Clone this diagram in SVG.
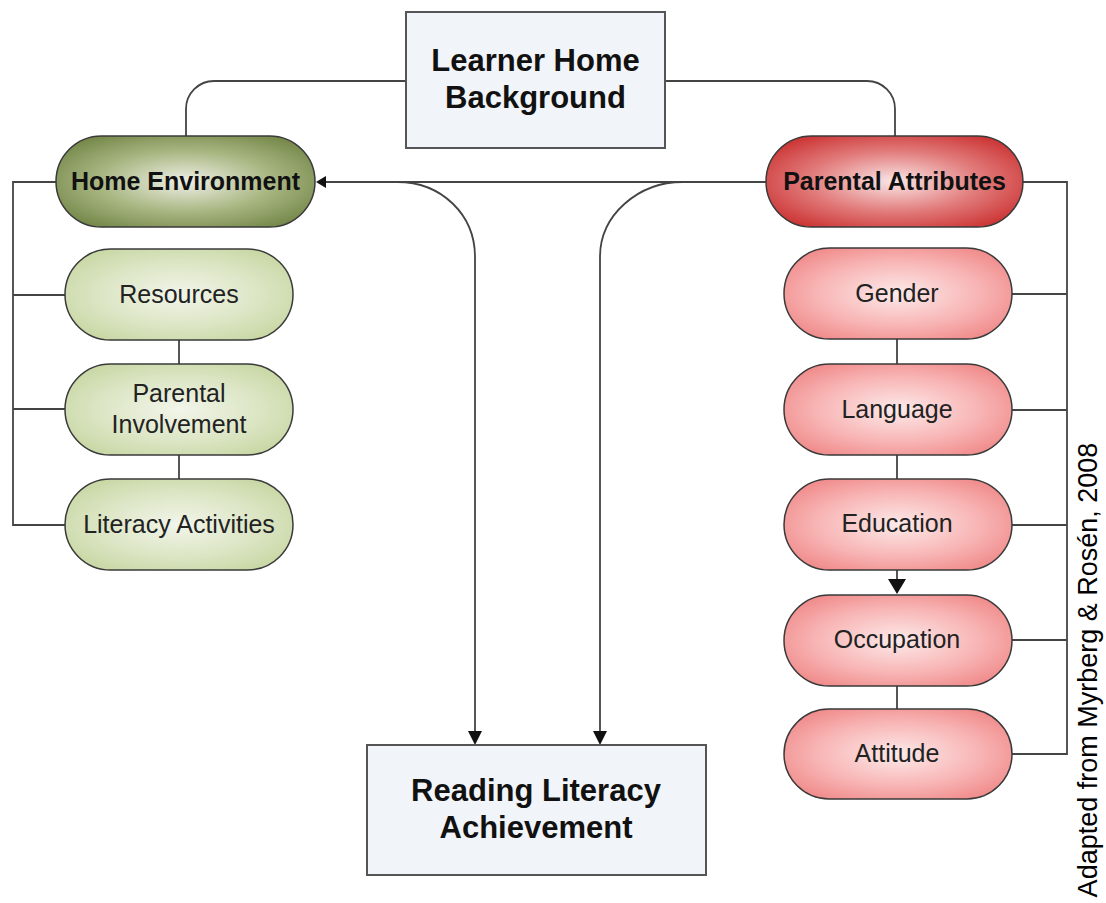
<svg xmlns="http://www.w3.org/2000/svg" width="1106" height="903" viewBox="0 0 1106 903">
<style>
.box{fill:#f1f4f8;stroke:#555;stroke-width:2}
.pill{stroke:#3a3a3a;stroke-width:1.5}
.he{fill:url(#gOlive)}
.gc{fill:url(#gLightGreen)}
.pa{fill:url(#gRed)}
.rc{fill:url(#gPink)}
.conn{fill:none;stroke:#444;stroke-width:1.8}
.big{font-family:"Liberation Sans",Arial,sans-serif;font-weight:bold;font-size:31px;fill:#111;text-anchor:middle}
.mid{font-family:"Liberation Sans",Arial,sans-serif;font-weight:bold;font-size:25px;fill:#111;text-anchor:middle}
.small{font-family:"Liberation Sans",Arial,sans-serif;font-size:25px;fill:#222;text-anchor:middle}
.note{font-family:"Liberation Sans",Arial,sans-serif;font-size:27px;fill:#000;text-anchor:middle}
.ah{fill:#111}
</style>
<defs>
<radialGradient id="gOlive" cx="0.5" cy="0.5" r="0.6">
<stop offset="0" stop-color="#eef0e6"/>
<stop offset="0.55" stop-color="#a9b783"/>
<stop offset="1" stop-color="#76884a"/>
</radialGradient>
<radialGradient id="gLightGreen" cx="0.5" cy="0.5" r="0.6">
<stop offset="0" stop-color="#f2f5ea"/>
<stop offset="0.6" stop-color="#dbe5c3"/>
<stop offset="1" stop-color="#c8d7a4"/>
</radialGradient>
<radialGradient id="gRed" cx="0.5" cy="0.5" r="0.6">
<stop offset="0" stop-color="#fae6e6"/>
<stop offset="0.55" stop-color="#e27c7c"/>
<stop offset="1" stop-color="#cc3535"/>
</radialGradient>
<radialGradient id="gPink" cx="0.5" cy="0.5" r="0.6">
<stop offset="0" stop-color="#fdeaea"/>
<stop offset="0.6" stop-color="#f8b4b4"/>
<stop offset="1" stop-color="#f08a8a"/>
</radialGradient>
</defs>

<g id="connectors">
<path class="conn" d="M406,81 H214 A28,28 0 0 0 186,109 V136"/>
<path class="conn" d="M665,81 H867 A28,28 0 0 1 895,109 V136"/>
<path class="conn" d="M766,182 H325"/>
<polygon class="ah" points="316,182 326,176 326,188"/>
<path class="conn" d="M397,182 C442,182 475,215 475,257 V732"/>
<polygon class="ah" points="475,745 468,731 482,731"/>
<path class="conn" d="M683,182 C638,182 600,215 600,257 V732"/>
<polygon class="ah" points="600,745 593,731 607,731"/>
<path class="conn" d="M56,182 H13 V525 H65 M13,295 H65 M13,409 H65"/>
<path class="conn" d="M179,340 V364 M179,455 V479"/>
<path class="conn" d="M1023,182 H1067 V754 H1011 M1011,294 H1067 M1011,410 H1067 M1011,525 H1067 M1011,640 H1067"/>
<path class="conn" d="M897,339 V364 M897,455 V479 M897,570 V581 M897,686 V709"/>
<polygon class="ah" points="897,594 888,579 906,579"/>
</g>

<g id="learner-home-background">
<rect class="box" x="406" y="12" width="259" height="136"/>
<text class="big" x="535.5" y="71">Learner Home</text>
<text class="big" x="535.5" y="108">Background</text>
</g>

<g id="home-environment">
<rect class="pill he" x="56" y="136" width="259" height="91" rx="45.5"/>
<text class="mid" x="185.5" y="190">Home Environment</text>
</g>

<g id="parental-attributes">
<rect class="pill pa" x="766" y="136" width="257" height="91" rx="45.5"/>
<text class="mid" x="894.5" y="190">Parental Attributes</text>
</g>

<g id="resources">
<rect class="pill gc" x="65" y="249" width="228" height="91" rx="45.5"/>
<text class="small" x="179" y="303">Resources</text>
</g>
<g id="parental-involvement">
<rect class="pill gc" x="65" y="364" width="228" height="91" rx="45.5"/>
<text class="small" x="179" y="402">Parental</text>
<text class="small" x="179" y="433">Involvement</text>
</g>
<g id="literacy-activities">
<rect class="pill gc" x="65" y="479" width="228" height="91" rx="45.5"/>
<text class="small" x="179" y="533">Literacy Activities</text>
</g>

<g id="gender">
<rect class="pill rc" x="784" y="248" width="228" height="91" rx="45.5"/>
<text class="small" x="897" y="302">Gender</text>
</g>
<g id="language">
<rect class="pill rc" x="784" y="364" width="228" height="91" rx="45.5"/>
<text class="small" x="897" y="418">Language</text>
</g>
<g id="education">
<rect class="pill rc" x="784" y="479" width="228" height="91" rx="45.5"/>
<text class="small" x="897" y="532">Education</text>
</g>
<g id="occupation">
<rect class="pill rc" x="784" y="595" width="228" height="91" rx="45.5"/>
<text class="small" x="897" y="648">Occupation</text>
</g>
<g id="attitude">
<rect class="pill rc" x="784" y="709" width="228" height="90" rx="45"/>
<text class="small" x="897" y="762">Attitude</text>
</g>

<g id="reading-literacy-achievement">
<rect class="box" x="367" y="745" width="339" height="130"/>
<text class="big" x="536" y="801">Reading Literacy</text>
<text class="big" x="536" y="838">Achievement</text>
</g>

<g id="source-note">
<text class="note" transform="translate(1097,670) rotate(-90)">Adapted from Myrberg &amp; Rosén, 2008</text>
</g>
</svg>
